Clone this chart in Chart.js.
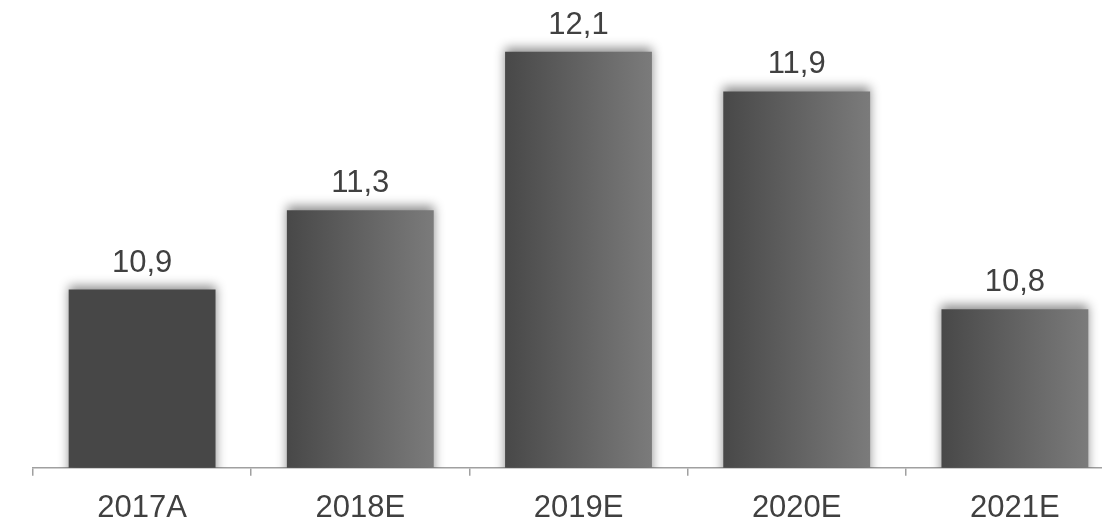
<!doctype html>
<html>
<head>
  <meta charset="utf-8" />
  <style>
    html, body { margin:0; padding:0; background:#fff; overflow:hidden; }
    .wrap { position:relative; width:1124px; height:541px; }
  </style>
</head>
<body>
  <div class="wrap"><canvas id="chart"></canvas></div>

  <script src="https://cdn.jsdelivr.net/npm/chart.js@4.4.1/dist/chart.umd.min.js"></script>
  <script>
    const categories = ['2017A', '2018E', '2019E', '2020E', '2021E'];
    const values = [10.9, 11.3, 12.1, 11.9, 10.8];
    const solidBars = [true, false, false, false, false]; // first bar is flat, rest have gradient

    const BAR_PCT = 0.673;
    const textColor = '#404040';
    const fontFamily = '"Liberation Sans", Arial, sans-serif';

    function barFill(ctx) {
      const chart = ctx.chart;
      const i = ctx.dataIndex;
      if (solidBars[i]) return '#474747';
      const x = chart.scales.x;
      if (!chart.chartArea || !x) return '#5f5f5f';
      const cx = x.getPixelForValue(i);
      const half = (x.width / categories.length) * BAR_PCT / 2;
      const g = chart.ctx.createLinearGradient(cx - half, 0, cx + half, 0);
      g.addColorStop(0, '#484848');
      g.addColorStop(1, '#7b7b7b');
      return g;
    }

    // soft shadow along the bar tops
    const barShadow = {
      id: 'barShadow',
      beforeDatasetsDraw(chart) {
        const c = chart.ctx;
        c.save();
        c.shadowColor = 'rgba(0,0,0,0.45)';
        c.shadowBlur = 10;
        c.shadowOffsetX = 0;
        c.shadowOffsetY = -4;
      },
      afterDatasetsDraw(chart) {
        chart.ctx.restore();
      }
    };

    // value labels above bars, comma decimal
    const valueLabels = {
      id: 'valueLabels',
      afterDraw(chart) {
        const c = chart.ctx;
        const meta = chart.getDatasetMeta(0);
        c.save();
        c.font = '31px ' + fontFamily;
        c.fillStyle = textColor;
        c.textAlign = 'center';
        c.textBaseline = 'alphabetic';
        meta.data.forEach((bar, i) => {
          c.fillText(values[i].toFixed(1).replace('.', ','), bar.x, bar.y - 18);
        });
        c.restore();
      }
    };

    new Chart(document.getElementById('chart'), {
      type: 'bar',
      data: {
        labels: categories,
        datasets: [{
          data: values,
          backgroundColor: barFill,
          borderWidth: 0,
          categoryPercentage: 1,
          barPercentage: BAR_PCT
        }]
      },
      options: {
        responsive: true,
        maintainAspectRatio: false,
        animation: false,
        layout: { padding: { left: 33, right: 0, top: 32, bottom: 0 } },
        plugins: { legend: { display: false }, tooltip: { enabled: false } },
        scales: {
          y: { display: false, min: 10, max: 12.2 },
          x: {
            offset: true,
            border: { display: true, color: '#a0a0a0', width: 1.5 },
            grid: { offset: true, drawOnChartArea: false, drawTicks: true, tickLength: 8, color: '#a0a0a0', lineWidth: 1.5 },
            ticks: {
              color: textColor,
              padding: 14,
              font: { family: fontFamily, size: 31 }
            }
          }
        }
      },
      plugins: [barShadow, valueLabels]
    });
  </script>
</body>
</html>
